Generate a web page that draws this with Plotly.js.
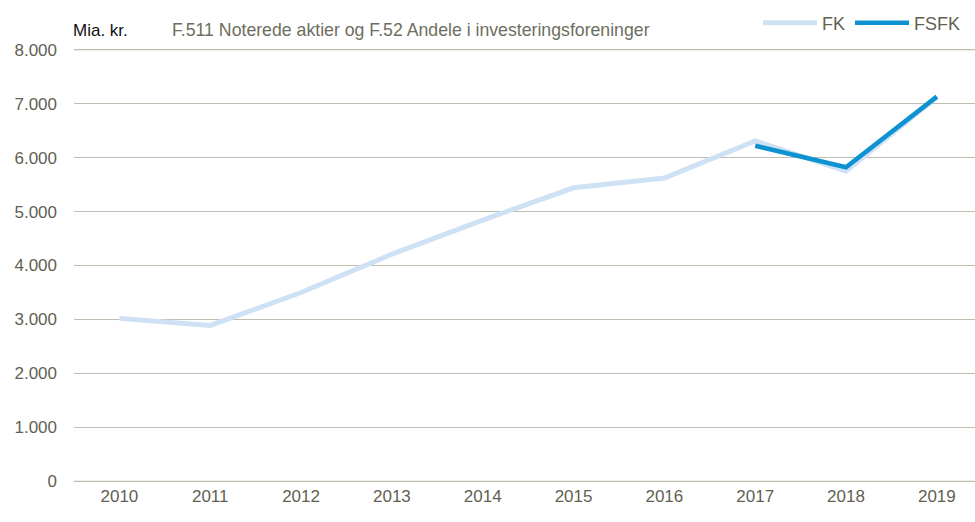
<!DOCTYPE html>
<html><head><meta charset="utf-8">
<script src="https://cdn.plot.ly/plotly-3.0.1.min.js"></script>
<style>html,body{margin:0;padding:0;background:#fff}</style>
</head><body><div id="chart" style="width:975px;height:522px"></div>
<script>
const years = ["2010","2011","2012","2013","2014","2015","2016","2017","2018","2019"];
const fk = [3020, 2890, 3500, 4210, 4840, 5440, 5620, 6310, 5750, 7120];
const fsfkYears = ["2017","2018","2019"];
const fsfk = [6220, 5820, 7130];
const yTicks = [0,1000,2000,3000,4000,5000,6000,7000,8000];

const FONT = '"Liberation Sans Narrow","Arial Narrow","Liberation Sans",Arial,sans-serif';
const TXT = '#5f5f52';
const GRID = '#bdbdb0';

const traces = [
  {x: years, y: fk, name: 'FK', type: 'scatter', mode: 'lines',
   line: {color: '#cfe1f4', width: 5}},
  {x: fsfkYears, y: fsfk, name: 'FSFK', type: 'scatter', mode: 'lines',
   line: {color: '#0f92d2', width: 4.5}}
];

const layout = {
  width: 975, height: 522,
  margin: {l: 74, r: 0, t: 47, b: 38},
  paper_bgcolor: '#fff', plot_bgcolor: '#fff',
  separators: ',.',
  font: {family: FONT, size: 17, color: TXT},
  showlegend: true,
  legend: {orientation: 'h', x: 0.99, xanchor: 'right', y: 1.055, yanchor: 'middle',
           itemwidth: 54, font: {family: FONT, size: 18, color: TXT},
           bgcolor: 'rgba(0,0,0,0)', tracegroupgap: 0},
  xaxis: {type: 'category', range: [-0.5, 9.42], showgrid: false, zeroline: false,
          showline: false, ticks: '', tickfont: {family: FONT, size: 17, color: TXT}},
  yaxis: {range: [-50, 8050], tickvals: yTicks, tickformat: ',d', showgrid: true,
          gridcolor: GRID, gridwidth: 1, zeroline: true, zerolinecolor: GRID,
          zerolinewidth: 1, showline: false,
          ticks: '', ticklabelstandoff: 16,
          tickfont: {family: FONT, size: 17, color: TXT}},
  shapes: [
    {type: 'line', xref: 'paper', yref: 'y', x0: 0, x1: 1,
     y0: yTicks[yTicks.length - 1], y1: yTicks[yTicks.length - 1],
     line: {color: GRID, width: 1.2}, layer: 'above'},
    {type: 'line', xref: 'paper', yref: 'y', x0: 0, x1: 1,
     y0: yTicks[0], y1: yTicks[0],
     line: {color: GRID, width: 1.2}, layer: 'above'}
  ],
  annotations: [
    {text: 'Mia. kr.', xref: 'paper', yref: 'paper', x: -0.003, y: 1.038,
     xanchor: 'left', yanchor: 'middle', showarrow: false,
     font: {family: FONT, size: 17, color: '#111'}},
    {text: 'F.511 Noterede aktier og F.52 Andele i investeringsforeninger', xref: 'paper', yref: 'paper',
     x: 0.107, y: 1.038, xanchor: 'left', yanchor: 'middle', showarrow: false,
     font: {family: FONT, size: 17.7, color: '#6e6e60'}}
  ]
};
Plotly.newPlot('chart', traces, layout, {displayModeBar: false});
</script></body></html>
